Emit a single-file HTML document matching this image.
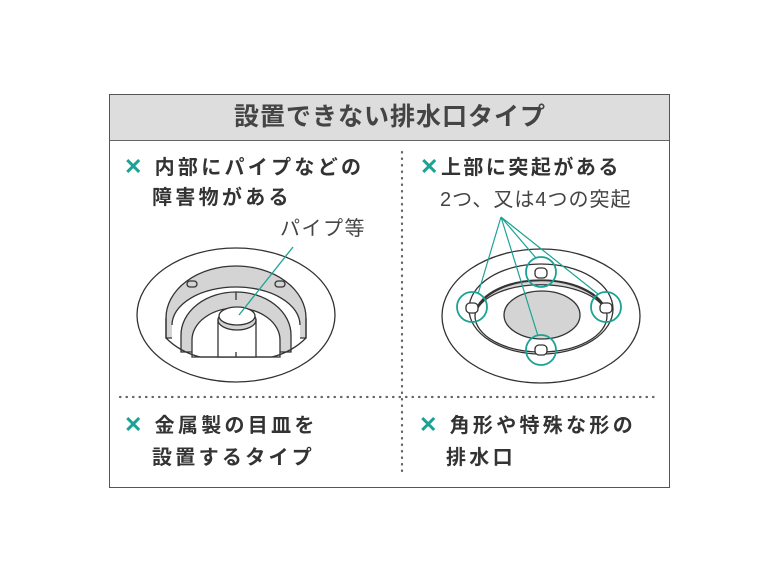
<!DOCTYPE html>
<html><head><meta charset="utf-8"><style>
body{margin:0;background:#fff;width:780px;height:585px;position:relative;overflow:hidden;font-family:"Liberation Sans","Noto Sans CJK JP",sans-serif;color:#333}
.t{position:absolute;white-space:nowrap;font-size:20px;font-weight:bold;letter-spacing:3.3px;line-height:22px}
.x{color:#1aa394;font-weight:bold;font-size:22px}
</style></head><body>
<div style="position:absolute;left:109px;top:94px;width:559px;height:392px;border:1px solid #555"></div>
<div style="position:absolute;left:110px;top:95px;width:559px;height:45px;background:#ddd;border-bottom:1px solid #666"></div>
<div class="t" style="left:0;width:780px;text-align:center;top:104px;font-size:25px;line-height:26px;letter-spacing:1px;font-weight:bold;color:#444">設置できない排水口タイプ</div>
<svg width="780" height="585" style="position:absolute;left:0;top:0">
<line x1="402" y1="152" x2="402" y2="475" stroke="#666" stroke-width="2.2" stroke-dasharray="0.5 6" stroke-linecap="round"/>
<line x1="120" y1="397" x2="658" y2="397" stroke="#666" stroke-width="2.2" stroke-dasharray="0.5 6" stroke-linecap="round"/>
<!-- left drain -->
<g fill="none" stroke="#333" stroke-width="1.3">
<ellipse cx="236" cy="315" rx="99" ry="67" fill="#fff"/>
<path d="M166 318 A70 52 0 0 1 306 318 L306 338 L166 338Z" fill="#d4d4d4"/>
<path d="M172 325 A64 38 0 0 1 300 325 L300 345 L172 345Z" fill="#fff" stroke="none"/>
<path d="M172 325 A64 38 0 0 1 300 325"/>
<path d="M181 335 A55 43 0 0 1 291 335 L291 352 L181 352Z" fill="#d4d4d4"/>
<path d="M192 340 A44 32 0 0 1 280 340 L280 357 L192 357Z" fill="#fff"/>
<line x1="166" y1="318" x2="166" y2="338"/><line x1="306" y1="318" x2="306" y2="338"/>
<path d="M166 338 Q180 352 200 357 L272 357 Q292 352 306 338" />
<rect x="218" y="320" width="38" height="37" fill="#fff"/>
<ellipse cx="237" cy="320" rx="19" ry="10" fill="#d4d4d4"/>
<ellipse cx="237" cy="316" rx="18" ry="9" fill="#fff"/>
<line x1="236" y1="292" x2="236" y2="300"/><line x1="236" y1="352" x2="236" y2="357"/>
<rect x="187" y="281" width="10" height="6" rx="3"/><rect x="275" y="281" width="10" height="6" rx="3"/>
</g>
<line x1="293" y1="247" x2="239" y2="315" stroke="#1aa394" stroke-width="1.3"/>
<!-- right drain -->
<g fill="none" stroke="#333" stroke-width="1.3">
<ellipse cx="541" cy="316" rx="99" ry="67" fill="#fff"/>
<ellipse cx="541" cy="309" rx="72" ry="45"/>
<path d="M476 312 A66 38 0 0 1 606 312 A66 33 0 0 0 476 312Z" fill="#d4d4d4"/>
<ellipse cx="541" cy="316" rx="66" ry="36"/>
<ellipse cx="542" cy="315" rx="38" ry="24" fill="#d4d4d4"/>
<g fill="#fff"><rect x="535" y="268" width="12" height="10" rx="4"/><rect x="466" y="303" width="12" height="10" rx="4"/><rect x="600" y="303" width="12" height="10" rx="4"/><rect x="535" y="345" width="12" height="10" rx="4"/></g>
</g>
<g fill="none" stroke="#1aa394" stroke-width="1.8">
<circle cx="541" cy="272" r="15"/><circle cx="472" cy="307" r="15"/><circle cx="606" cy="307" r="15"/><circle cx="541" cy="350" r="15"/>
<path d="M501 217 L478 294 M501 217 L536 258 M501 217 L598 294 M501 217 L538 336" stroke-width="1.2"/>
</g>
</svg>
<div class="t" style="left:124px;top:156px"><span class="x">✕</span> 内部にパイプなどの</div>
<div class="t" style="left:152px;top:187px">障害物がある</div>
<div class="t" style="left:280px;top:218px;font-weight:normal;color:#444;letter-spacing:1.5px">パイプ等</div>
<div class="t" style="left:420px;top:156px;letter-spacing:2.5px"><span class="x">✕</span>上部に突起がある</div>
<div class="t" style="left:440px;top:189px;font-weight:normal;color:#444;letter-spacing:1px">2つ、又は4つの突起</div>
<div class="t" style="left:124px;top:414px"><span class="x">✕</span> 金属製の目皿を</div>
<div class="t" style="left:152px;top:447px">設置するタイプ</div>
<div class="t" style="left:419px;top:414px"><span class="x">✕</span> 角形や特殊な形の</div>
<div class="t" style="left:446px;top:447px">排水口</div>
</body></html>
